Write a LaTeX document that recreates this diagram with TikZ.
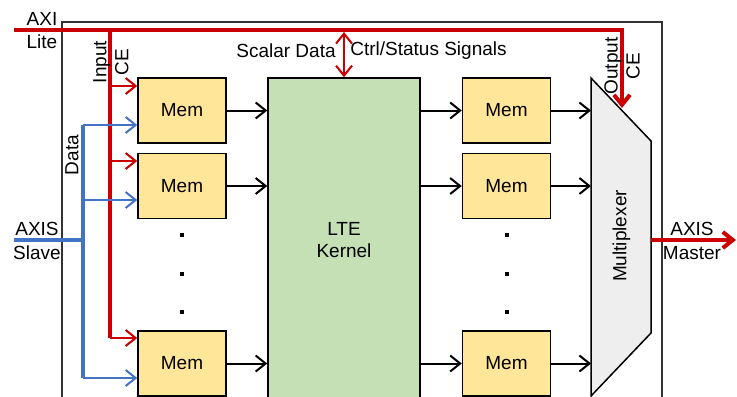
\documentclass[tikz,border=0pt]{standalone}
\usepackage{fontspec}
\setmainfont{Liberation Sans}
\usetikzlibrary{arrows.meta,positioning}
\definecolor{axired}{RGB}{204,0,0}
\definecolor{axisblue}{RGB}{68,114,196}
\definecolor{memfill}{RGB}{255,230,153}
\definecolor{kernfill}{RGB}{197,224,180}
\definecolor{muxfill}{RGB}{238,238,238}
\newcommand{\busw}{2pt}
\newcommand{\sigw}{1pt}

\tikzset{
  mem/.style={draw, fill=memfill, line width=0.75pt, minimum width=44pt, minimum height=32.5pt, inner sep=0pt},
  sig/.style={-{Straight Barb[length=5pt,width=8pt]}, line width=\sigw},
  bus/.style={line width=\busw},
  lbl/.style={inner sep=0pt},
  dotbox/.style={fill, minimum size=2pt, inner sep=0pt},
}

\begin{document}
\begin{tikzpicture}[x=0.5pt,y=-0.5pt,font=\fontsize{9.5}{11}\selectfont]
    \useasboundingbox (0,0) rectangle (737,396);
    \clip (0,0) rectangle (737,396);

    %Frame:
    \draw[line width=0.6pt, black!80] (62,22) rectangle (662,420);

    %Memories and kernel:
    \node[mem] (mem1) at (182,110.5) {Mem};
    \node[mem] (mem2) at (182,186) {Mem};
    \node[mem] (mem3) at (182,363.5) {Mem};
    \node[mem] (rmem1) at (506.5,110.5) {Mem};
    \node[mem] (rmem2) at (506.5,186) {Mem};
    \node[mem] (rmem3) at (506.5,363.5) {Mem};
    \node[draw, fill=kernfill, line width=0.75pt, minimum width=76pt, minimum height=162pt, align=center] (kernel) at (344,240) {LTE\\Kernel};

    \foreach \y [count=\i] in {235,274,312} {
        \node[dotbox] (ldot\i) at (182,\y) {};
        \node[dotbox] (rdot\i) at (506.5,\y) {};
    }

    %Multiplexer:
    \coordinate (muxtl) at (591,78);
    \coordinate (muxtr) at (651,141);
    \coordinate (muxbr) at (651,333);
    \coordinate (muxbl) at (591,396);
    \draw[fill=muxfill, line width=0.75pt] (muxtl) -- (muxtr) -- (muxbr) -- (muxbl) -- cycle;
    \node[lbl, rotate=90] (muxlbl) at (621.5,236) {Multiplexer};

    \foreach \i in {1,2,3} {
        \draw[sig] (mem\i.east) -- (kernel.west |- mem\i);
        \draw[sig] (kernel.east |- rmem\i) -- (rmem\i.west);
        \draw[sig] (rmem\i.east) -- (muxtl |- rmem\i);
    }

    %AXI Lite and CE:
    \coordinate (axiin) at (14,30);
    \coordinate (ocebend) at (622,30);
    \coordinate (ocetip) at (622,108);
    \coordinate (cetop) at (110,30);
    \coordinate (cetap1) at (110,86);
    \coordinate (cetap2) at (110,161);
    \coordinate (cetap3) at (110,338);
    \draw[axired, bus, -{Straight Barb[length=5pt,width=8pt]}] (axiin) -- (ocebend) -- (ocetip);
    \draw[axired, bus] (cetop) -- (cetap3);
    \foreach \i in {1,2,3}
        \draw[sig, axired] (cetap\i) -- (cetap\i -| mem\i.west);

    \coordinate (ctltop) at (344,32);
    \draw[axired, line width=\sigw, {Straight Barb[length=5pt,width=8pt]}-{Straight Barb[length=5pt,width=8pt]}] (ctltop) -- (kernel.north);

    %AXIS Slave data:
    \coordinate (slavein) at (14,240);
    \coordinate (datajoin) at (83,240);
    \coordinate (datatap1) at (83,125);
    \coordinate (datatap2) at (83,200);
    \coordinate (datatap3) at (83,378);
    \draw[axisblue, bus] (slavein) -- (datajoin);
    \draw[axisblue, bus] (datatap1) -- (datatap3);
    \foreach \i in {1,2,3}
        \draw[sig, axisblue] (datatap\i) -- (datatap\i -| mem\i.west);

    %AXIS Master:
    \coordinate (masterout) at (736,240);
    \draw[axired, bus, -{Straight Barb[length=5pt,width=8pt]}] (muxtr |- masterout) -- (masterout);

    %Labels:
    \node[lbl] (axilbl) at (42,19) {AXI};
    \node[lbl] (litelbl) at (42,42) {Lite};
    \node[lbl] (slavelbl1) at (37,229) {AXIS};
    \node[lbl] (slavelbl2) at (37,253) {Slave};
    \node[lbl] (masterlbl1) at (692,229) {AXIS};
    \node[lbl] (masterlbl2) at (692,253) {Master};
    \node[lbl, rotate=90, align=center] (icelbl) at (111,62) {Input\\CE};
    \node[lbl, rotate=90] (datalbl) at (72,155) {Data};
    \node[lbl, rotate=90, align=center] (ocelbl) at (622,66) {Output\\CE};
    \node[lbl] (scalarlbl) at (286,51) {Scalar Data};
    \node[lbl] (ctrllbl) at (428.5,51) {Ctrl/Status Signals};
\end{tikzpicture}
\end{document}
